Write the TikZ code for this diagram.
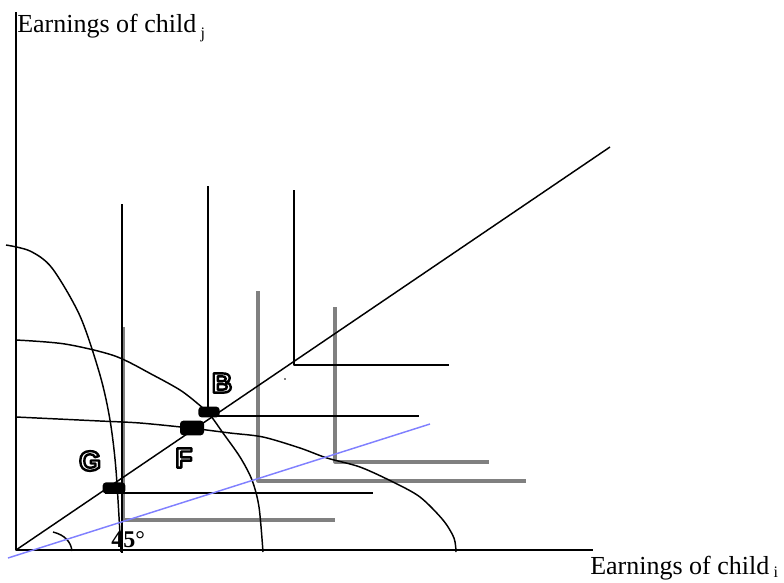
\documentclass[tikz,border=0pt]{standalone}
\usepackage{fontspec}
\setmainfont{Liberation Serif}
\newfontfamily\tagfont{Liberation Sans}
\usepackage{tikz}
\usetikzlibrary{calc}
\usepackage{xcolor}
\definecolor{budgetblue}{HTML}{8080FF}
\definecolor{kinkgray}{HTML}{808080}
\newcommand\hollowletter[1]{\special{pdf:literal direct 1 Tr 1.8 w}#1\special{pdf:literal direct 0 Tr}}
\tikzset{
  axis/.style={black, line width=1.1pt},
  kinkblack/.style={black, line width=1.1pt},
  kinkgrey/.style={kinkgray, line width=2.3pt},
  frontier/.style={black, line width=1.1pt},
  blob/.style={fill=black, rounded corners=2.5pt, inner sep=0pt},
  tag/.style={font=\tagfont\bfseries\fontsize{21}{21}\selectfont, inner sep=0pt},
  axislabel/.style={font=\fontsize{19.5}{22}\selectfont, anchor=base west, inner sep=0pt},
}

\begin{document}
\begin{tikzpicture}[x=0.75pt, y=-0.75pt, line join=round]
  \useasboundingbox (0,0) rectangle (784,582);
  \coordinate (O) at (16,550);
  % gray kinked lines
  \draw[kinkgrey] (123,327) -- (123,520) -- (335,520);
  \draw[kinkgrey] (258,291) -- (258,481) -- (526,481);
  \draw[kinkgrey] (335,307) -- (335,462) -- (489,462);
  % black kinked lines
  \draw[kinkblack] (122,204) -- (122,553);
  \draw[kinkblack] (105,493) -- (373,493);
  \draw[kinkblack] (208,186) -- (208,416) -- (419,416);
  \draw[kinkblack] (294,190) -- (294,365) -- (449,365);
  % axes
  \draw[axis] (16,12) -- (O) -- (593,550);
  \node[axislabel] (ylab) at (17,32) {Earnings of child\,\raisebox{-0.25em}{\fontsize{12}{12}\selectfont j}};
  \node[axislabel] (xlab) at (590,574) {Earnings of child\,\raisebox{-0.12em}{\fontsize{12}{12}\selectfont i}};
  % 45 degree line and angle
  \draw[kinkblack] (O) -- (610,147);
  \draw[kinkblack] (53,532) .. controls (65,535) and (71,542) .. (72,551);
  \node[anchor=base west, inner sep=0pt, font=\fontsize{18}{18}\selectfont] (deg) at (111,547) {\textbf{45}°};
  % frontiers
  \draw[frontier] plot[smooth] coordinates {(6,245) (30,251) (52,268) (80,316) (100,375) (110,420) (116,470) (121,552)};
  \draw[frontier] plot[smooth] coordinates {(16,340) (65,344) (115,356) (153,375) (180,390) (197,403) (210,415) (223,433) (240,457) (252,480) (259,507) (263,552)};
  \draw[frontier] plot[smooth] coordinates {(16,417) (100,421) (140,423) (190,428) (230,433) (263,437) (300,448) (327,458) (360,467) (393,482) (420,497) (443,520) (454,538) (456,552)};
  % budget line
  \draw[budgetblue, line width=1.1pt] (8,558) -- (430,424);
  % equilibrium points
  \node[blob, minimum width=17pt, minimum height=8.5pt] (G) at (114,488) {};
  \node[blob, minimum width=18pt, minimum height=11pt] (F) at (192,428) {};
  \node[blob, minimum width=16pt, minimum height=8pt] (B) at (209,412) {};
  \fill (285,379) circle (0.6pt);
  % labels
  \node[tag] (labB) at (222,383) {\hollowletter{B}};
  \node[tag] (labF) at (184,458) {\hollowletter{F}};
  \node[tag] (labG) at (90,461) {\hollowletter{G}};
\end{tikzpicture}
\end{document}
